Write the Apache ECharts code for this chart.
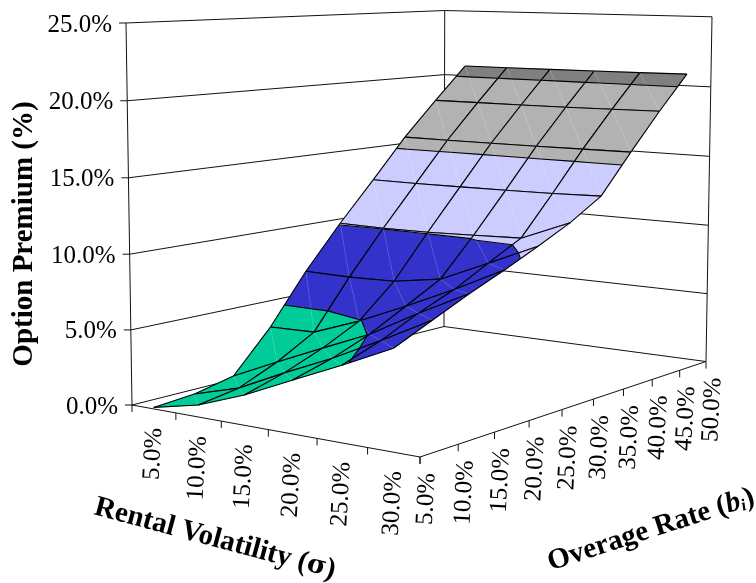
<!DOCTYPE html>
<html>
<head>
<meta charset="utf-8">
<title>Option Premium surface</title>
<script src="https://cdn.jsdelivr.net/npm/echarts@6/dist/echarts.min.js"></script>
<style>
  html, body { margin: 0; padding: 0; background: #fff; }
  #chart { width: 756px; height: 583px; }
</style>
</head>
<body>
<div id="chart"></div>
<script>
var volatility = ['5.0%', '10.0%', '15.0%', '20.0%', '25.0%', '30.0%'];
var overage = ['5.0%', '10.0%', '15.0%', '20.0%', '25.0%', '30.0%', '35.0%', '40.0%', '45.0%', '50.0%'];
var premiumTicks = [0, 5, 10, 15, 20, 25];
var premiumLabels = ['0.0%', '5.0%', '10.0%', '15.0%', '20.0%', '25.0%'];

// option premium (%) along the overage rate, one list per volatility
var vol5 = [0.1, 0.3, 0.86, 3.66, 7.09, 10.1, 12.9, 15.77, 18.3, 20.74];
var vol10 = [0.78, 1.2, 2.3, 3.74, 7.04, 10.05, 12.9, 15.75, 18.3, 20.75];
var vol15 = [1.94, 2.7, 3.7, 4.93, 7.13, 10.09, 12.92, 15.75, 18.3, 20.76];
var vol20 = [3.38, 4.1, 5.07, 6.35, 7.65, 10.2, 12.95, 15.76, 18.32, 20.78];
var vol25 = [4.79, 5.7, 6.86, 7.85, 9.1, 10.33, 13, 15.78, 18.35, 20.8];
var vol30 = [6.29, 7.4, 8.5, 9.5, 10.57, 11.7, 13.1, 15.8, 18.4, 20.84];
var premium = [vol5, vol10, vol15, vol20, vol25, vol30];

var bandColors = ['#00CC99', '#3333CC', '#CCCCFF', '#B2B2B2', '#808080'];
var font = '"Liberation Serif", "Times New Roman", serif';

// perspective of the Excel style box: (vol, overage, premium) in 0..1 -> screen
var camera = [
  [245.5, 405.1, -8.72, 132],
  [5.75, -10, -382.5, 405],
  [-0.1012, 0.2097, -0.0216, 1]
];

function project(u, v, w) {
  var c = camera;
  var d = c[2][0] * u + c[2][1] * v + c[2][2] * w + c[2][3];
  return [
    (c[0][0] * u + c[0][1] * v + c[0][2] * w + c[0][3]) / d,
    (c[1][0] * u + c[1][1] * v + c[1][2] * w + c[1][3]) / d
  ];
}

// surface node. vol sits between ticks, overage sits on ticks
function node(i, j) {
  return { u: (i + 0.5) / volatility.length, v: j / (overage.length - 1), z: premium[i][j] };
}

function toScreen(p) {
  return project(p.u, p.v, p.z / 25);
}

function lerpNode(a, b, level) {
  var t = (level - a.z) / (b.z - a.z);
  return { u: a.u + (b.u - a.u) * t, v: a.v + (b.v - a.v) * t, z: level };
}

// keep the part of a polygon above (sign 1) or below (sign -1) a level
function clip(poly, level, sign) {
  var out = [];
  for (var k = 0; k < poly.length; k++) {
    var a = poly[k];
    var b = poly[(k + 1) % poly.length];
    var aIn = (a.z - level) * sign >= 0;
    var bIn = (b.z - level) * sign >= 0;
    if (aIn) out.push(a);
    if (aIn !== bIn) out.push(lerpNode(a, b, level));
  }
  return out;
}

var marks = [];

function addLine(a, b, color, width) {
  marks.push({ kind: 'line', a: a, b: b, color: color, width: width });
}

function addTriangle(tri) {
  bandColors.forEach(function (color, n) {
    var part = clip(clip(tri, n * 5, 1), (n + 1) * 5, -1);
    if (part.length > 2) {
      marks.push({ kind: 'poly', points: part.map(toScreen), color: color });
    }
  });
}

function addContours(tri) {
  for (var level = 5; level < 25; level += 5) {
    var hits = [];
    for (var k = 0; k < 3; k++) {
      var a = tri[k];
      var b = tri[(k + 1) % 3];
      if ((a.z - level) * (b.z - level) < 0) hits.push(lerpNode(a, b, level));
    }
    if (hits.length === 2) addLine(toScreen(hits[0]), toScreen(hits[1]), '#000', 1.1);
  }
}

// walls and floor
premiumTicks.forEach(function (t) {
  var w = t / 25;
  var left = project(0, 0, w);
  var back = project(0, 1, w);
  addLine(left, back, '#111', 1);
  addLine(back, project(1, 1, w), '#111', 1);
  addLine([left[0] - 7, left[1]], left, '#111', 1);
});
addLine(project(0, 0, 0), project(0, 0, 1), '#111', 1);
addLine(project(0, 1, 0), project(0, 1, 1), '#111', 1);
addLine(project(1, 1, 0), project(1, 1, 1), '#111', 1);
addLine(project(0, 0, 0), project(1, 0, 0), '#111', 1);
addLine(project(1, 0, 0), project(1, 1, 0), '#111', 1);
for (var a = 0; a <= volatility.length; a++) {
  var pa = project(a / volatility.length, 0, 0);
  addLine(pa, [pa[0], pa[1] + 7], '#111', 1);
}
for (var b = 0; b < overage.length; b++) {
  var pb = project(1, b / (overage.length - 1), 0);
  addLine(pb, [pb[0], pb[1] + 7], '#111', 1);
}

// surface cells, far ones first
for (var j = overage.length - 2; j >= 0; j--) {
  for (var i = 0; i < volatility.length - 1; i++) {
    var n00 = node(i, j);
    var n10 = node(i + 1, j);
    var n01 = node(i, j + 1);
    var n11 = node(i + 1, j + 1);
    var t1 = [n01, n11, n10];
    var t2 = [n00, n10, n01];
    addTriangle(t1);
    addTriangle(t2);
    addLine(toScreen(n01), toScreen(n10), 'rgba(255,255,255,0.22)', 0.6);
    addContours(t1);
    addContours(t2);
    addLine(toScreen(n00), toScreen(n10), '#000', 1.1);
    addLine(toScreen(n01), toScreen(n11), '#000', 1.1);
    addLine(toScreen(n00), toScreen(n01), '#000', 1.1);
    addLine(toScreen(n10), toScreen(n11), '#000', 1.1);
  }
}

function addText(text, x, y, size, rotate, align, bold, rich) {
  marks.push({ kind: 'text', text: text, x: x, y: y, size: size, rotate: rotate, align: align, bold: bold, rich: rich });
}

premiumLabels.forEach(function (label, n) {
  var p = project(0, 0, premiumTicks[n] / 25);
  addText(label, p[0] - 14, p[1] + 2, 25, 0, 'right', false);
});
volatility.forEach(function (label, n) {
  var p = project((n + 0.5) / volatility.length, 0, 0);
  addText(label, p[0] + 1, p[1] + 19, 25, 87, 'right', false);
});
overage.forEach(function (label, n) {
  var p = project(1, n / (overage.length - 1), 0);
  addText(label, p[0] + 8, p[1] + 16, 25, 87, 'right', false);
});
addText('Option Premium (%)', 25, 234, 29, 90, 'center', true);
addText('{n|Rental Volatility (}{g|σ}{n|)}', 215, 539, 29, -15, 'center', true, {
  n: { font: 'bold 29px ' + font, fill: '#000' },
  g: { font: 'bold 26px "DejaVu Serif"', fill: '#000' }
});
addText('{n|Overage Rate (}{b|b}{s|i}{n|)}', 651, 530, 29, 18, 'center', true, {
  n: { font: 'bold 29px ' + font, fill: '#000' },
  b: { font: 'italic bold 29px ' + font, fill: '#000' },
  s: { font: 'italic bold 17px ' + font, fill: '#000', verticalAlign: 'bottom' }
});

function renderMark(params) {
  var m = marks[params.dataIndex];
  if (m.kind === 'poly') {
    return {
      type: 'polygon',
      shape: { points: m.points },
      style: { fill: m.color, stroke: m.color, lineWidth: 0.5 }
    };
  }
  if (m.kind === 'line') {
    return {
      type: 'line',
      shape: { x1: m.a[0], y1: m.a[1], x2: m.b[0], y2: m.b[1] },
      style: { stroke: m.color, lineWidth: m.width, fill: null }
    };
  }
  var style = {
    text: m.text,
    x: 0,
    y: 0,
    fill: '#000',
    align: m.align,
    verticalAlign: 'middle',
    fontFamily: font,
    fontSize: m.size,
    fontWeight: m.bold ? 'bold' : 'normal'
  };
  if (m.rich) style.rich = m.rich;
  return {
    type: 'text',
    x: m.x,
    y: m.y,
    rotation: m.rotate * Math.PI / 180,
    style: style
  };
}

var myChart = echarts.init(document.getElementById('chart'));
myChart.setOption({
  animation: false,
  backgroundColor: '#fff',
  series: [{
    type: 'custom',
    coordinateSystem: 'none',
    silent: true,
    renderItem: renderMark,
    data: marks.map(function (m, k) { return k; })
  }]
});
</script>
</body>
</html>
